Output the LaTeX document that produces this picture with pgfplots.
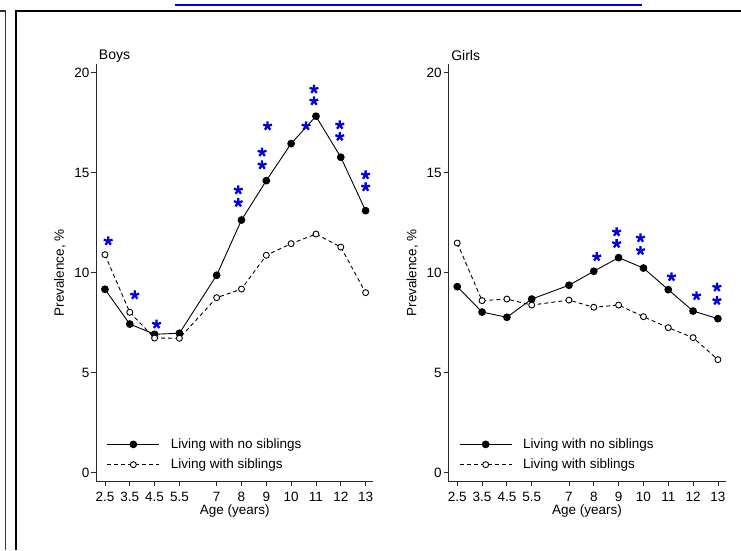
\documentclass[border=0pt]{standalone}
\usepackage{fontspec}
\setmainfont{Liberation Sans}
\usepackage{pgfplots}
\pgfplotsset{compat=1.18}
\definecolor{starblue}{RGB}{0,0,220}
\definecolor{axgray}{RGB}{40,40,40}
\pgfplotsset{
  panel/.style={
    scale only axis, width=277.3pt, height=417.7pt,
    xmin=2.14, xmax=13.31, ymin=-0.45, ymax=20.43,
    axis lines*=left,
    axis line style={line width=0.8pt, axgray},
    every tick/.style={line width=0.8pt, axgray},
    tick align=outside, major tick length=4.5pt,
    xtick={2.5,3.5,4.5,5.5,7,8,9,10,11,12,13},
    xticklabels={2.5,3.5,4.5,5.5,7,8,9,10,11,12,13},
    ytick={0,5,10,15,20},
    yticklabels={0,5,10,15,20},
    tick label style={font=\fontsize{13.5}{15}\selectfont},
    xticklabel style={inner sep=0pt, yshift=-6pt},
    yticklabel style={inner sep=2pt},
    xlabel={Age (years)},
    xlabel style={at={(axis description cs:0.5,-0.0712)}, anchor=center, inner sep=0pt, font=\fontsize{13.5}{15}\selectfont},
    ylabel={Prevalence, \%},
    ylabel style={at={(axis description cs:-0.13,0.5)}, anchor=center, font=\fontsize{13.5}{15}\selectfont},
    title style={at={(axis description cs:0.01,1.005)}, anchor=west, yshift=0pt, inner sep=0pt, font=\fontsize{14}{16}\selectfont},
    legend style={at={(axis description cs:0.0386,0.022)}, anchor=south west, draw=none, fill=none,
      font=\fontsize{13.5}{15}\selectfont, row sep=5pt, inner sep=0pt, legend cell align=left,
      /tikz/every odd column/.append style={column sep=9pt}},
    legend image code/.code={\draw[mark repeat=2,mark phase=2,##1] plot coordinates {(0pt,0pt) (26pt,0pt) (52pt,0pt)};},
  },
  solidser/.style={black, line width=0.9pt, mark=*, mark size=3.4pt, mark options={solid, fill=black}},
  dashser/.style={black, line width=0.9pt, dash pattern=on 4pt off 3pt, mark=*, mark size=3pt, mark options={solid, fill=white}},
  stars/.style={starblue, only marks, mark=star, mark size=4.6pt, mark options={line width=2.3pt, line cap=butt}, forget plot},
}
\begin{document}
\begin{tikzpicture}
\useasboundingbox (0pt,0pt) rectangle (741pt,550pt);
\fill[white] (0pt,0pt) rectangle (741pt,550pt);
% frame
\draw[line width=1.2pt, black!80] (0pt,539pt) -- (5.5pt,539pt) -- (5.5pt,0pt);
\draw[line width=1.6pt, black] (16pt,0pt) -- (16pt,539pt) -- (741pt,539pt);
\draw[line width=2pt, starblue] (175pt,545pt) -- (642pt,545pt);

\begin{axis}[panel, at={(96pt,68.3pt)}, anchor=south west, title={Boys}]
\addplot[solidser] coordinates {(2.5,9.17) (3.5,7.43) (4.5,6.92) (5.5,6.97) (7,9.87) (8,12.63) (9,14.6) (10,16.45) (11,17.82) (12,15.77) (13,13.1)};
\addlegendentry{Living with no siblings}
\addplot[dashser] coordinates {(2.5,10.9) (3.5,8.02) (4.5,6.73) (5.5,6.72) (7,8.75) (8,9.18) (9,10.87) (10,11.45) (11,11.93) (12,11.28) (13,9.0)};
\addlegendentry{Living with siblings}
\addplot[stars] coordinates {(2.63,11.58) (3.70,8.88) (4.58,7.42) (7.87,14.13) (7.87,13.5) (8.83,16.02) (8.83,15.38) (9.05,17.33) (10.6,17.33) (10.92,19.17) (10.92,18.58) (11.96,17.38) (11.96,16.8) (13.0,14.88) (13.0,14.28)};
\end{axis}

\begin{axis}[panel, at={(448.3pt,68.3pt)}, anchor=south west, title={Girls}]
\addplot[solidser] coordinates {(2.5,9.3) (3.5,8.03) (4.5,7.77) (5.5,8.68) (7,9.37) (8,10.07) (9,10.75) (10,10.23) (11,9.15) (12,8.08) (13,7.7)};
\addlegendentry{Living with no siblings}
\addplot[dashser] coordinates {(2.5,11.48) (3.5,8.6) (4.5,8.68) (5.5,8.38) (7,8.63) (8,8.27) (9,8.38) (10,7.8) (11,7.25) (12,6.75) (13,5.65)};
\addlegendentry{Living with siblings}
\addplot[stars] coordinates {(8.12,10.79) (8.92,12.03) (8.92,11.45) (9.88,11.73) (9.88,11.1) (11.13,9.79) (12.14,8.84) (12.96,9.27) (12.96,8.6)};
\end{axis}
\end{tikzpicture}
\end{document}
